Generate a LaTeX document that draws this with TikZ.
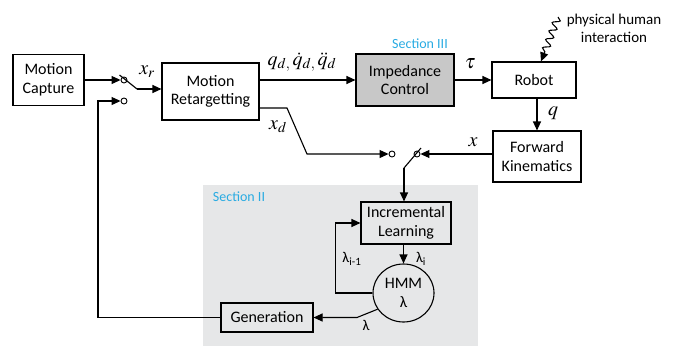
\documentclass[tikz,border=0pt]{standalone}
\usepackage{mathptmx}
\usepackage{fontspec}
\setmainfont{Carlito}
\usetikzlibrary{arrows.meta,shapes.geometric,decorations.pathmorphing}
\definecolor{secblue}{HTML}{29ABE2}
\definecolor{secgray}{HTML}{E6E7E8}
\definecolor{impgray}{HTML}{C8C8C8}
\begin{document}
\begin{tikzpicture}[x=1pt,y=-1pt,
  blk/.style={draw,line width=1.1pt,align=center,inner sep=1pt,font=\fontsize{16}{18.5}\selectfont},
  arr/.style={line width=1.1pt,-{Triangle[length=9pt,width=8pt]}},
  ln/.style={line width=1.1pt},
  sw/.style={draw,circle,line width=0.9pt,inner sep=0pt,minimum size=6pt},
  mlab/.style={font=\fontsize{20}{22}\selectfont,inner sep=0pt},
  llab/.style={font=\fontsize{15}{17}\selectfont,inner sep=0pt},
  sec/.style={font=\fontsize{14}{16}\selectfont,text=secblue,inner sep=0pt}]
\useasboundingbox (0,0) rectangle (680,346);
% section II background
\fill[secgray] (203,185) rectangle (478,346);
\node[sec] (sec2) at (239,197) {Section II};
\node[sec] (sec3) at (420,44) {Section III};
% blocks
\node[blk,minimum width=71pt,minimum height=51pt] (mc) at (48.5,80) {Motion\\Capture};
\node[blk,minimum width=97pt,minimum height=57pt] (mr) at (210.5,91.5) {Motion\\Retargetting};
\node[blk,fill=impgray,minimum width=98pt,minimum height=52pt] (imp) at (405,80) {Impedance\\Control};
\node[blk,minimum width=84pt,minimum height=36pt] (rob) at (534,80) {Robot};
\node[blk,minimum width=88pt,minimum height=51pt] (fk) at (537,156.5) {Forward\\Kinematics};
\node[blk,minimum width=90pt,minimum height=42pt] (il) at (406,223) {Incremental\\Learning};
\node[blk,minimum width=92pt,minimum height=29pt] (gen) at (267,317.5) {Generation};
\node[blk,ellipse,minimum width=61pt,minimum height=58pt,inner sep=0pt] (hmm) at (403.5,293) {HMM\\λ};
% switches
\node[sw] (s1a) at (124,80) {};
\node[sw] (s1b) at (124,101) {};
\node[sw] (s2a) at (392,154) {};
\node[sw] (s2b) at (417,154) {};
\coordinate (l1t) at (119.5,75);
\coordinate (l1b) at (137,89);
\coordinate (l2t) at (421,148);
\coordinate (l2b) at (404,168);
\coordinate (fb) at (98,101);
\coordinate (xd0) at (259,108);
\coordinate (xd1) at (287,108);
\coordinate (xd2) at (307,154);
\coordinate (lg) at (357,317.5);
% connectors
\draw[arr] (mc.east) -- (s1a.west);
\draw[ln] (l1t) -- (l1b);
\draw[arr] (l1b) -- (l1b -| mr.west);
\draw[arr] (gen.west) -| (fb) -- (s1b.west);
\draw[arr] (mr.north east |- imp.west) -- (imp.west);
\draw[arr] (xd0) -- (xd1) -- (xd2) -- (s2a.west);
\draw[arr] (imp.east) -- (rob.west);
\draw[arr] (fk.north |- rob.south) -- (fk.north);
\draw[arr] (fk.west |- s2b.east) -- (s2b.east);
\draw[ln] (l2t) -- (l2b);
\draw[arr] (l2b) -- (l2b |- il.north);
\draw[arr] (hmm.north |- il.south) -- (hmm.north);
\draw[arr] (hmm.west) -- ++(-37,0) |- (il.west);
\draw[arr] (hmm.212) -- (lg) -- (gen.east);
% physical human interaction
\node[llab,align=center,font=\fontsize{15}{18}\selectfont] (phi) at (614,28) {physical human\\interaction};
\coordinate (sq0) at (558,17);
\draw[ln,-{Triangle[length=9pt,width=8pt]},decorate,decoration={snake,amplitude=3.5pt,segment length=9pt,post length=10pt}] (sq0) -- (rob.north -| 541,0);
% labels
\node[mlab] (lxr) at (147,72) {$x_r$};
\node[mlab] (lq) at (302,62) {$q_{d,}\,\dot q_{d,}\,\ddot q_d$};
\node[mlab] (lxd) at (278,127) {$x_d$};
\node[mlab] (ltau) at (470,64) {$\tau$};
\node[mlab] (lqq) at (553,113) {$q$};
\node[mlab] (lx) at (473,142) {$x$};
\node[llab] (lli) at (421,259) {λ\textsubscript{i}};
\node[llab] (llim) at (352,259) {λ\textsubscript{i-1}};
\node[llab] (ll) at (366,325) {λ};
\end{tikzpicture}
\end{document}
